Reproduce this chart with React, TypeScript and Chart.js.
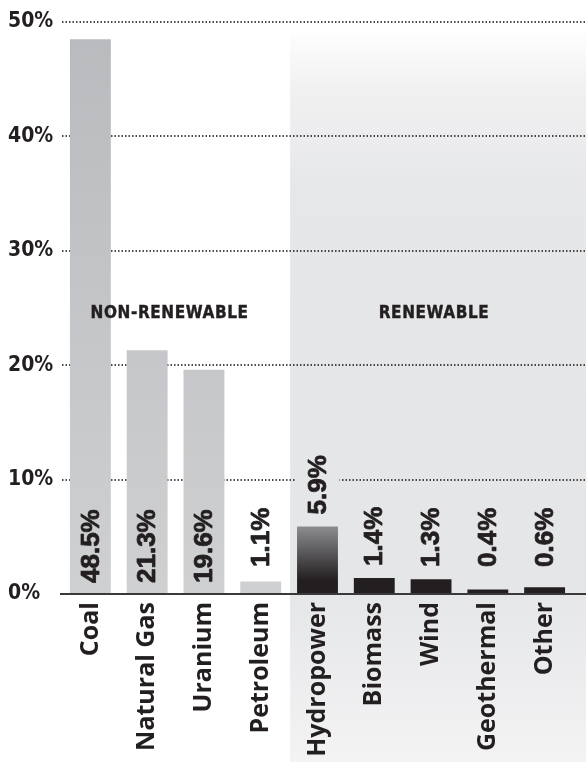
import React, { useEffect, useRef } from 'react';
import { Chart, registerables } from 'chart.js';

Chart.register(...registerables);

// ---- data ----
const categories = ['Coal', 'Natural Gas', 'Uranium', 'Petroleum', 'Hydropower', 'Biomass', 'Wind', 'Geothermal', 'Other'];
const shares = [48.5, 21.3, 19.6, 1.1, 5.9, 1.4, 1.3, 0.4, 0.6];
const shareLabels = ['48.5%', '21.3%', '19.6%', '1.1%', '5.9%', '1.4%', '1.3%', '0.4%', '0.6%'];
const renewable = [false, false, false, false, true, true, true, true, true];
const yTickValues = [0, 10, 20, 30, 40, 50];
const groupLabels = ['NON-RENEWABLE', 'RENEWABLE'];

// ---- styles ----
const INK = '#231f20';
const CAT_FONT = "'Open Sans', 'Noto Sans', sans-serif";
const NARROW_FONT = "'Liberation Sans Narrow', 'DejaVu Sans Condensed', sans-serif";
const VALUE_FONT = "'Liberation Sans', Arial, sans-serif";
const GROUP_LABEL_LEVEL = 24.5;

function panelGradient(ctx: CanvasRenderingContext2D, top: number, bottom: number) {
  const g = ctx.createLinearGradient(0, top, 0, bottom);
  const h = bottom - top;
  g.addColorStop(0, '#ffffff');
  g.addColorStop(60 / h, '#f1f1f2');
  g.addColorStop(160 / h, '#e6e7e9');
  g.addColorStop(560 / h, '#e5e6e8');
  g.addColorStop(1, '#f3f3f4');
  return g;
}

function boundaryX(chart: any) {
  const x = chart.scales.x;
  const first = renewable.indexOf(true);
  return (x.getPixelForValue(first - 1) + x.getPixelForValue(first)) / 2 + 1;
}

const decorPlugin = {
  id: 'decor',
  beforeDraw(chart: any) {
    const { ctx, chartArea } = chart;
    const bx = boundaryX(chart);
    const top = chartArea.top + 6;
    ctx.save();
    ctx.fillStyle = panelGradient(ctx, top, chart.height);
    ctx.fillRect(bx, top, chart.width - bx, chart.height - top);
    ctx.restore();
  },
  beforeDatasetsDraw(chart: any) {
    const { ctx, chartArea, scales } = chart;
    ctx.save();
    ctx.strokeStyle = '#111111';
    ctx.lineWidth = 1.5;
    ctx.setLineDash([1.5, 2]);
    yTickValues.forEach((v) => {
      if (v === 0) return;
      const y = Math.round(scales.y.getPixelForValue(v));
      ctx.beginPath();
      ctx.moveTo(chartArea.left, y);
      ctx.lineTo(chart.width, y);
      ctx.stroke();
    });
    ctx.restore();
  },
  afterDatasetsDraw(chart: any) {
    const { ctx, chartArea, scales } = chart;
    const yAxis = scales.y;
    const axisY = yAxis.getPixelForValue(0);
    const meta = chart.getDatasetMeta(0);
    const panelTop = chartArea.top + 6;

    // value labels
    ctx.save();
    ctx.font = `bold 26px ${VALUE_FONT}`;
    ctx.textAlign = 'left';
    ctx.textBaseline = 'middle';
    meta.data.forEach((bar: any, i: number) => {
      const text = shareLabels[i];
      const w = ctx.measureText(text).width;
      const barH = axisY - bar.y;
      let startY: number;
      let inside = false;
      if (barH > w + 22) {
        startY = axisY - 11;
        inside = true;
      } else {
        startY = Math.min(bar.y, axisY - 15) - 12;
      }
      if (!inside) {
        ctx.save();
        ctx.fillStyle = renewable[i] ? panelGradient(ctx, panelTop, chart.height) : '#ffffff';
        ctx.fillRect(bar.x - 22, startY - w - 2, 44, w + 4);
        ctx.restore();
      }
      ctx.save();
      ctx.translate(bar.x + 1, startY);
      ctx.rotate(-Math.PI / 2);
      ctx.fillStyle = INK;
      ctx.strokeStyle = INK;
      ctx.lineWidth = 0.8;
      ctx.lineJoin = 'round';
      ctx.fillText(text, 0, 0);
      ctx.strokeText(text, 0, 0);
      ctx.restore();
    });
    ctx.restore();

    // group labels
    ctx.save();
    ctx.font = `bold 17px ${NARROW_FONT}`;
    (ctx as any).letterSpacing = '0.6px';
    ctx.fillStyle = INK;
    ctx.strokeStyle = INK;
    ctx.lineWidth = 0.4;
    ctx.textAlign = 'center';
    ctx.textBaseline = 'middle';
    const gy = yAxis.getPixelForValue(GROUP_LABEL_LEVEL);
    groupLabels.forEach((label, gi) => {
      const idx = renewable.map((r, i) => ((r ? 1 : 0) === gi ? i : -1)).filter((i) => i >= 0);
      const xs = idx.map((i) => meta.data[i].x);
      const cx = (Math.min(...xs) + Math.max(...xs)) / 2 + (gi === 0 ? -6 : 3);
      ctx.fillText(label, cx, gy);
      ctx.strokeText(label, cx, gy);
    });
    ctx.restore();

    // axis line
    ctx.save();
    ctx.strokeStyle = '#3a3a3a';
    ctx.lineWidth = 2;
    ctx.beginPath();
    ctx.moveTo(chartArea.left - 2, axisY);
    ctx.lineTo(chart.width, axisY);
    ctx.stroke();
    ctx.restore();
  },
};

export default function App() {
  const canvasRef = useRef<HTMLCanvasElement | null>(null);

  useEffect(() => {
    if (!canvasRef.current) return;
    const chart = new Chart(canvasRef.current, {
      type: 'bar',
      data: {
        labels: categories,
        datasets: [
          {
            data: shares,
            borderWidth: 0,
            categoryPercentage: 1,
            barPercentage: 0.72,
            backgroundColor: (c: any) => {
              const ch = c.chart;
              const area = ch.chartArea;
              if (!area) return '#c4c5c7';
              const y = ch.scales.y;
              if (renewable[c.dataIndex]) {
                const g = ch.ctx.createLinearGradient(0, y.getPixelForValue(6.2), 0, y.getPixelForValue(1.2));
                g.addColorStop(0, '#939497');
                g.addColorStop(1, '#231f20');
                return g;
              }
              const g = ch.ctx.createLinearGradient(0, area.top, 0, area.bottom);
              g.addColorStop(0, '#b9babd');
              g.addColorStop(1, '#cfd0d2');
              return g;
            },
          },
        ],
      },
      options: {
        animation: false,
        responsive: true,
        maintainAspectRatio: false,
        layout: { padding: { top: 22, left: 8, right: 13, bottom: 0 } },
        plugins: { legend: { display: false }, tooltip: { enabled: false } },
        scales: {
          x: {
            grid: { display: false, drawTicks: false },
            border: { display: false },
            ticks: {
              autoSkip: false,
              maxRotation: 90,
              minRotation: 90,
              padding: 8,
              color: INK,
              font: { family: CAT_FONT, size: 25, weight: 'bold' },
            },
            afterFit: (s: any) => {
              s.height = 168;
            },
          },
          y: {
            min: 0,
            max: 50,
            grid: { display: false, drawTicks: false },
            border: { display: false },
            afterBuildTicks: (s: any) => {
              s.ticks = yTickValues.map((v) => ({ value: v }));
            },
            ticks: {
              crossAlign: 'far',
              color: INK,
              font: { family: NARROW_FONT, size: 21, weight: 'bold' },
              callback: (v: any) => `${v}%`,
            },
            afterFit: (s: any) => {
              s.width = 54;
            },
          },
        },
      },
      plugins: [decorPlugin],
    } as any);
    return () => chart.destroy();
  }, []);

  return (
    <div style={{ position: 'fixed', left: 0, top: 0, width: 586, height: 762, background: '#ffffff' }}>
      <canvas ref={canvasRef} />
    </div>
  );
}
